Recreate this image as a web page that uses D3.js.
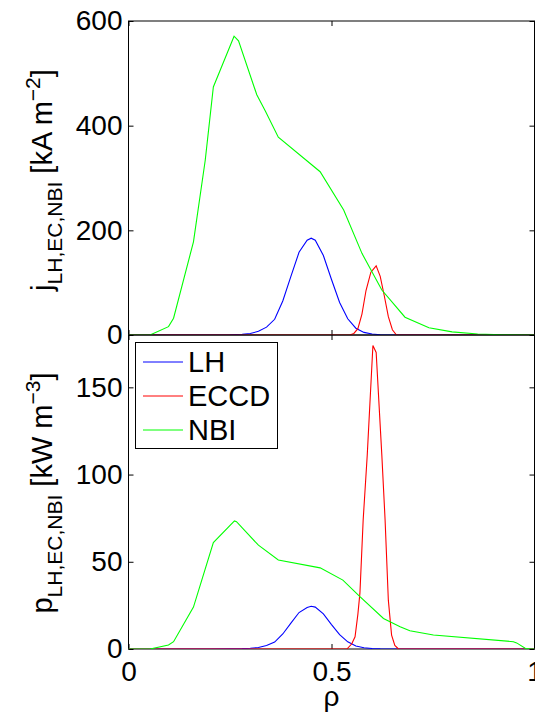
<!DOCTYPE html>
<html>
<head>
<meta charset="utf-8">
<script src="https://cdn.jsdelivr.net/npm/d3@7"></script>
<style>
body{margin:0;background:#fff;}
text{font-family:"Liberation Sans",Arial,Helvetica,sans-serif;fill:#000;}
</style>
</head>
<body>
<script>
//current density profiles (top panel), kA m^-2
var lhRho  = [0,0.20,0.25,0.28,0.30,0.32,0.34,0.36,0.38,0.40,0.42,0.44,0.45,0.46,0.48,0.50,0.52,0.54,0.56,0.58,0.60,0.62,0.65,1];
var lhJ    = [0,0,0.5,1.5,3,7,15,30,65,112,158,181,185,181,152,106,62,31,13,5,2,0.5,0,0];
var ecRhoJ = [0,0.545,0.555,0.565,0.575,0.585,0.597,0.61,0.62,0.63,0.64,0.65,0.66,1];
var ecJ    = [0,0,3,12,40,85,120,132,112,75,35,10,0,0];
var nbiRhoJ = [0,0.053,0.0985,0.111,0.16,0.189,0.209,0.26,0.271,0.316,0.337,0.369,0.472,0.53,0.575,0.624,0.681,0.74,0.797,0.86,0.92,1];
var nbiJ    = [0,0,16,32,178,334,474,571,562,459,428,378,312,239,156,86,34,14,6,2,0.5,0];

//power density profiles (bottom panel), kW m^-3
var lhP    = [0,0,0.07,0.2,0.4,0.9,2,4,8.6,14.8,20.9,23.8,24.5,24,20.1,14,8.2,4.1,1.7,0.7,0.3,0.1,0,0];
var ecRhoP = [0,0.538,0.55,0.558,0.565,0.57,0.578,0.588,0.602,0.61,0.624,0.632,0.64,0.648,0.656,0.665,1];
var ecP    = [0,0,3,7,20,32,74,111,174,170,111,74,28,8,2,0,0];
var nbiRhoP = [0,0.053,0.0985,0.111,0.16,0.209,0.261,0.266,0.32,0.369,0.472,0.528,0.57,0.628,0.669,0.693,0.751,0.948,0.956,0.977,0.99,1];
var nbiP    = [0,0,2.3,4.2,24,61,73.4,73,59.5,51,46.5,39.5,30,17.5,12.8,10.5,8,4.2,3.5,0.4,0,0];

//tick values and legend entries
var xTicks = [0,0.5,1];
var jTicks = [0,200,400,600];
var pTicks = [0,50,100,150];
var legendNames = ["LH","ECCD","NBI"];
var colors = ["#0000ff","#ff0000","#00ff00"];

var width = 535,
    height = 713;

var svg = d3.select("body")
    .append("svg")
    .attr("width", width)
    .attr("height", height);

var left = 128.5, right = 534.5;
var x = d3.scaleLinear().domain([0,1]).range([left, right]);
var yTop = d3.scaleLinear().domain([0,600]).range([335, 21]);
var yBot = d3.scaleLinear().domain([0,180]).range([649, 335]);

svg.append("clipPath").attr("id","clipTop")
    .append("rect").attr("x",left).attr("y",21).attr("width",right-left).attr("height",314);
svg.append("clipPath").attr("id","clipBot")
    .append("rect").attr("x",left).attr("y",335).attr("width",right-left).attr("height",314);

//draw one panel: box, ticks, labels, curves
function panel(y, yTicks, series, clipId, showX){
    var g = svg.append("g");
    var y0 = y.range()[0], y1 = y.range()[1];

    var yl = g.append("g").attr("transform","translate(" + left + ",0)")
        .call(d3.axisLeft(y).tickValues(yTicks).tickSizeInner(-5).tickSizeOuter(0).tickPadding(6));
    yl.selectAll("text").style("font-size","28px");

    g.append("g").attr("transform","translate(" + right + ",0)")
        .call(d3.axisRight(y).tickValues(yTicks).tickSizeInner(-5).tickSizeOuter(0).tickFormat(""));

    var xb = g.append("g").attr("transform","translate(0," + y0 + ")")
        .call(d3.axisBottom(x).tickValues(xTicks).tickSizeInner(-5).tickSizeOuter(0).tickPadding(12)
            .tickFormat(showX ? d3.format("") : ""));
    xb.selectAll("text").style("font-size","28px");

    g.append("g").attr("transform","translate(0," + y1 + ")")
        .call(d3.axisTop(x).tickValues(xTicks).tickSizeInner(-5).tickSizeOuter(0).tickFormat(""));

    g.selectAll(".domain").remove();
    g.selectAll(".tick line").attr("stroke","#000");

    g.append("rect")
        .attr("x", left).attr("y", y1)
        .attr("width", right - left).attr("height", y0 - y1)
        .attr("fill","none").attr("stroke","#000").attr("stroke-width",1);

    var line = d3.line()
        .x(function(d){ return x(d[0]); })
        .y(function(d){ return y(d[1]); });

    g.append("g").attr("clip-path","url(#" + clipId + ")")
        .selectAll("path")
        .data(series)
        .enter()
        .append("path")
        .attr("d", function(d){ return line(d3.zip(d.rho, d.val)); })
        .attr("fill","none")
        .attr("stroke", function(d,i){ return colors[i]; })
        .attr("stroke-width",1.1);
}

panel(yTop, jTicks, [
    {rho: lhRho, val: lhJ},
    {rho: ecRhoJ, val: ecJ},
    {rho: nbiRhoJ, val: nbiJ}
], "clipTop", false);

panel(yBot, pTicks, [
    {rho: lhRho, val: lhP},
    {rho: ecRhoP, val: ecP},
    {rho: nbiRhoP, val: nbiP}
], "clipBot", true);

//axis titles
function yTitle(cy, main, unit, sup){
    var t = svg.append("text")
        .attr("transform","translate(52," + cy + ") rotate(-90)")
        .attr("text-anchor","middle")
        .style("font-size","29px");
    t.append("tspan").text(main);
    t.append("tspan").attr("dy",10).style("font-size","21px").text("LH,EC,NBI");
    t.append("tspan").attr("dy",-10).text(" [" + unit + " m");
    t.append("tspan").attr("dy",-12).style("font-size","21px").text("\u2212" + sup);
    t.append("tspan").attr("dy",12).text("]");
}
yTitle(180, "j", "kA", "2");
yTitle(493, "p", "kW", "3");

svg.append("text")
    .attr("x", x(0.5)).attr("y", 706)
    .attr("text-anchor","middle")
    .style("font-size","28px")
    .text("\u03c1");

//legend
var lg = svg.append("g");
lg.append("rect")
    .attr("x",135.5).attr("y",342.5).attr("width",142).attr("height",106)
    .attr("fill","#fff").attr("stroke","#000").attr("stroke-width",1);
var items = lg.selectAll(".item")
    .data(legendNames)
    .enter()
    .append("g")
    .attr("transform", function(d,i){ return "translate(0," + (362 + i*34) + ")"; });
items.append("line")
    .attr("x1",143).attr("x2",183).attr("y1",0).attr("y2",0)
    .attr("stroke", function(d,i){ return colors[i]; })
    .attr("stroke-width",1);
items.append("text")
    .attr("x",188).attr("y",0).attr("dy","0.35em")
    .style("font-size","29px")
    .text(function(d){ return d; });
</script>
</body>
</html>
